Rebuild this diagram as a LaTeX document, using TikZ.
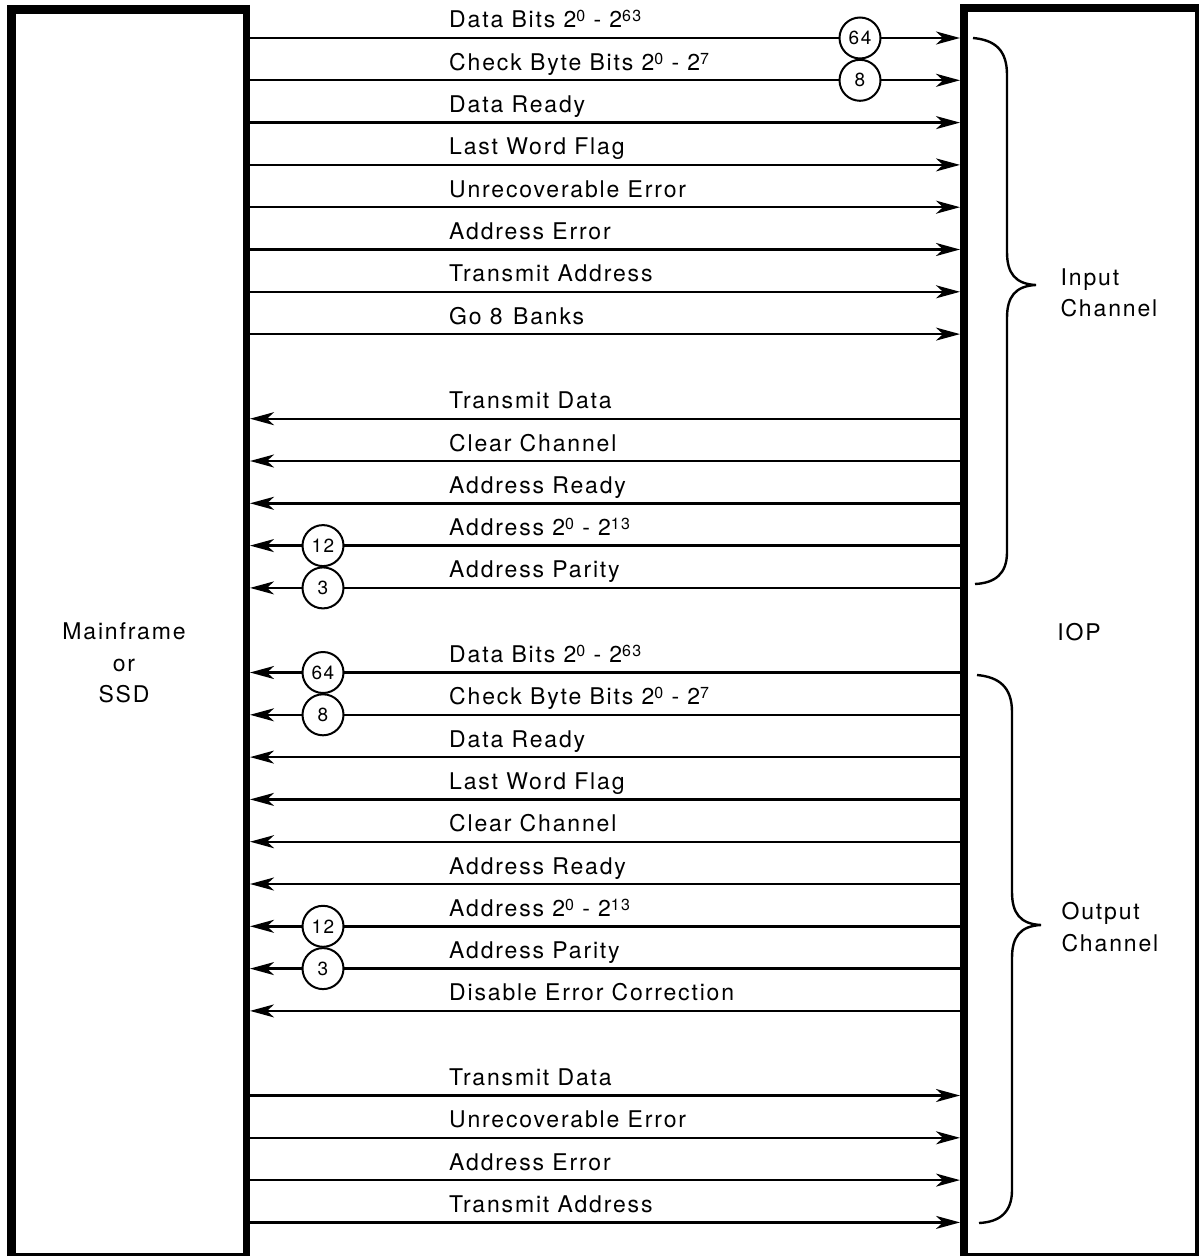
\documentclass[tikz,border=0pt]{standalone}
\usepackage{fontspec}
\setmainfont{TeX Gyre Heros}[LetterSpace=8]
\usetikzlibrary{arrows.meta}
\newcommand\sups[1]{\raisebox{6pt}{\fontsize{16}{16}\selectfont #1}}
\begin{document}
\begin{tikzpicture}[x=1pt,y=-1pt,
  tip/.tip={Stealth[length=24pt,width=13pt,inset=7pt]},
  sigr/.style={line width=2.4pt,-tip},
  sigl/.style={line width=2.4pt,tip-},
  lbl/.style={anchor=base west,inner sep=0pt,font=\fontsize{23}{27}\selectfont},
  num/.style={circle,draw,line width=2pt,fill=white,minimum size=41pt,inner sep=0pt,font=\fontsize{19}{19}\selectfont},
  big/.style={align=center,font=\fontsize{23}{31.5}\selectfont},
  brace/.style={line width=2.4pt}]
\useasboundingbox (0,0) rectangle (1201,1257);
% Mainframe box
\draw[line width=9pt] (11.5,1256) -- (11.5,9.5) -- (246,9.5);
\draw[line width=7pt] (246,5) -- (246,1256);
\draw[line width=2.5pt] (7,1254.5) -- (249.5,1254.5);
% IOP box
\draw[line width=8pt] (964,1256) -- (964,8.5) -- (1197,8.5);
\draw[line width=4pt] (1197,4.5) -- (1197,1256);
\draw[line width=2.5pt] (960,1254.5) -- (1199,1254.5);
\node[big] (mf) at (124,663) {Mainframe\\or\\SSD};
\node[big] (iop) at (1079,632) {IOP};
% signals
\foreach \k/\d/\t in {
  0/r/{Data Bits 2\sups{0} - 2\sups{63}},
  1/r/{Check Byte Bits 2\sups{0} - 2\sups{7}},
  2/r/{Data Ready},
  3/r/{Last Word Flag},
  4/r/{Unrecoverable Error},
  5/r/{Address Error},
  6/r/{Transmit Address},
  7/r/{Go 8\hspace{0.45em}Banks},
  9/l/{Transmit Data},
  10/l/{Clear Channel},
  11/l/{Address Ready},
  12/l/{Address 2\sups{0} - 2\sups{13}},
  13/l/{Address Parity},
  15/l/{Data Bits 2\sups{0} - 2\sups{63}},
  16/l/{Check Byte Bits 2\sups{0} - 2\sups{7}},
  17/l/{Data Ready},
  18/l/{Last Word Flag},
  19/l/{Clear Channel},
  20/l/{Address Ready},
  21/l/{Address 2\sups{0} - 2\sups{13}},
  22/l/{Address Parity},
  23/l/{Disable Error Correction},
  25/r/{Transmit Data},
  26/r/{Unrecoverable Error},
  27/r/{Address Error},
  28/r/{Transmit Address}}{
  \coordinate (l\k) at (250,{38+42.3*\k});
  \coordinate (r\k) at (960,{38+42.3*\k});
  \draw[sig\d] (l\k) -- (r\k);
  \node[lbl] (t\k) at (449,{28+42.3*\k}) {\t};
}
% bus width circles
\node[num] (n0) at (860,38) {64};
\node[num] (n1) at (860,80.3) {8};
\node[num] (n12) at (323,545.6) {12};
\node[num] (n13) at (323,587.9) {3};
\node[num] (n15) at (323,672.5) {64};
\node[num] (n16) at (323,714.8) {8};
\node[num] (n21) at (323,926.3) {12};
\node[num] (n22) at (323,968.6) {3};
% braces
\draw[brace] (973,38) .. controls (995,40) and (1007,50) .. (1007,75) -- (1007,252)
  .. controls (1007,273) and (1015,284) .. (1036,285)
  .. controls (1015,286) and (1007,297) .. (1007,318) -- (1007,552)
  .. controls (1007,574) and (995,583) .. (975,584);
\node[big,align=left,anchor=west] (inp) at (1057,293) {Input\\Channel};
\draw[brace] (977,675) .. controls (999,677) and (1012,687) .. (1012,712) -- (1012,892)
  .. controls (1012,913) and (1020,924) .. (1041,925)
  .. controls (1020,926) and (1012,937) .. (1012,958) -- (1012,1190)
  .. controls (1012,1212) and (1000,1222) .. (979,1223);
\node[big,align=left,anchor=west] (outp) at (1058,927) {Output\\Channel};
\end{tikzpicture}
\end{document}
